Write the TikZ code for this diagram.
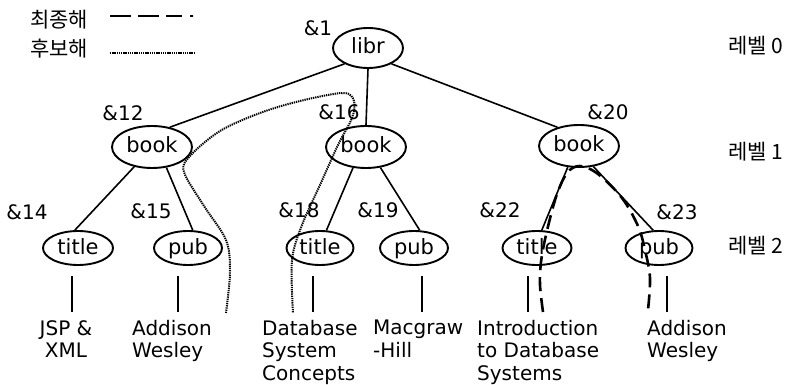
\documentclass[tikz,border=0pt]{standalone}
\usepackage{fontspec}
\setmainfont{DejaVu Sans}
\newfontfamily\kr{Noto Sans CJK KR}
\usetikzlibrary{shapes.geometric,calc}
\begin{document}
\begin{tikzpicture}[x=1pt,y=-1pt,
  every node/.style={font=\fontsize{20}{22.5}\selectfont, inner sep=0pt},
  el/.style={ellipse, draw, line width=1.9pt, minimum width=#1, text height=14pt, text depth=2pt, font=\fontsize{21}{23}\selectfont},
  big/.style={minimum height=42pt},
  small/.style={minimum height=34pt},
  edge/.style={line width=1.6pt},
  leafline/.style={line width=1.2pt},
  leaf/.style={align=left, anchor=north west},
  lvl/.style={font=\kr\fontsize{21}{24}\selectfont, anchor=west},
  cand/.style={line width=2pt, dash pattern=on 1.3pt off 0.9pt},
  sol/.style={line width=2.6pt, dash pattern=on 14pt off 7pt},
]
\useasboundingbox (0,0) rectangle (801,385);

% legend
\node[lvl] (lg1) at (30,20) {최종해};
\node[lvl] (lg2) at (30,49) {후보해};
\coordinate (lg1a) at (110,16);
\coordinate (lg1b) at (193,16);
\coordinate (lg2a) at (110,53);
\coordinate (lg2b) at (195,53);
\draw[line width=2.4pt, dash pattern=on 21pt off 7pt on 21pt off 7pt on 16pt off 8pt on 3pt off 0pt] (lg1a) -- (lg1b);
\draw[cand] (lg2a) -- (lg2b);

% level labels
\node[lvl] (l0) at (728,46) {레벨 0};
\node[lvl] (l1) at (728,152) {레벨 1};
\node[lvl] (l2) at (728,246) {레벨 2};

% tree nodes
\node[el=70pt, minimum height=40pt] (libr) at (368,48) {libr};
\node[el=80pt, big] (b1) at (152,147) {book};
\node[el=80pt, big] (b2) at (366,147) {book};
\node[el=80pt, big] (b3) at (579,146) {book};
\node[el=70pt, small] (t1) at (78,248) {title};
\node[el=68pt, small] (p1) at (188,248) {pub};
\node[el=67pt, small] (t2) at (320,248) {title};
\node[el=68pt, small] (p2) at (414,248) {pub};
\node[el=69pt, small] (t3) at (537,248) {title};
\node[el=67pt, small] (p3) at (659,248) {pub};

% id labels
\node (i1) at (318,28) {\&1};
\node (i12) at (123,113) {\&12};
\node (i16) at (339,112) {\&16};
\node (i20) at (608,112) {\&20};
\node (i14) at (27,212) {\&14};
\node (i15) at (151,211) {\&15};
\node (i18) at (299,210) {\&18};
\node (i19) at (378,210) {\&19};
\node (i22) at (500,210) {\&22};
\node (i23) at (677,212) {\&23};

% edges
\draw[edge] (libr.214) -- (b1.48);
\draw[edge] (libr.south) -- (b2.north);
\draw[edge] (libr.326) -- (b3.139);
\draw[edge] (b1.228) -- (t1.100);
\draw[edge] (b1.305) -- (p1.75);
\draw[edge] (b2.238) -- (t2.70);
\draw[edge] (b2.305) -- (p2.72);
\draw[edge] (b3.242) -- (t3.75);
\draw[edge] (b3.305) -- (p3.108);

% leaf texts
\node[align=center, anchor=north] (v1) at (66,320) {JSP \&\\XML};
\node[leaf] (v2) at (132,320) {Addison\\Wesley};
\node[leaf] (v3) at (262,320) {Database\\System\\Concepts};
\node[leaf] (v4) at (373,320) {Macgraw\\-Hill};
\node[leaf] (v5) at (477,320) {Introduction\\to Database\\Systems};
\node[leaf] (v6) at (647,320) {Addison\\Wesley};

% leaf lines
\draw[leafline] ($(t1.south)+(-6,10)$) -- ($(t1.south |- v1.north)+(-6,-8)$);
\draw[leafline] ($(p1.south)+(-10,10)$) -- ($(p1.south |- v2.north)+(-10,-8)$);
\draw[leafline] ($(t2.south)+(-7,10)$) -- ($(t2.south |- v3.north)+(-7,-8)$);
\draw[leafline] ($(p2.south)+(8,10)$) -- ($(p2.south |- v4.north)+(8,-8)$);
\draw[leafline] ($(t3.south)+(-9,10)$) -- ($(t3.south |- v5.north)+(-9,-8)$);
\draw[leafline] ($(p3.south)+(8,10)$) -- ($(p3.south |- v6.north)+(8,-8)$);

% candidate path (dotted)
\draw[cand] plot[smooth, tension=0.55] coordinates {
  (226,313) (230,272) (226,240) (204,206) (184,172) (190,156) (220,131) (260,113) (300,101) (343,93) (354,101) (352,118) (338,145) (320,185) (302,225) (292,260) (293,313)};

% solution path (dashed)
\draw[sol] plot[smooth, tension=0.55] coordinates {
  (543,312) (540,285) (541,262) (546,235) (556,197) (567,173) (580,166) (598,174) (622,198) (638,226) (645,250) (650,278) (648,310)};
\end{tikzpicture}
\end{document}
